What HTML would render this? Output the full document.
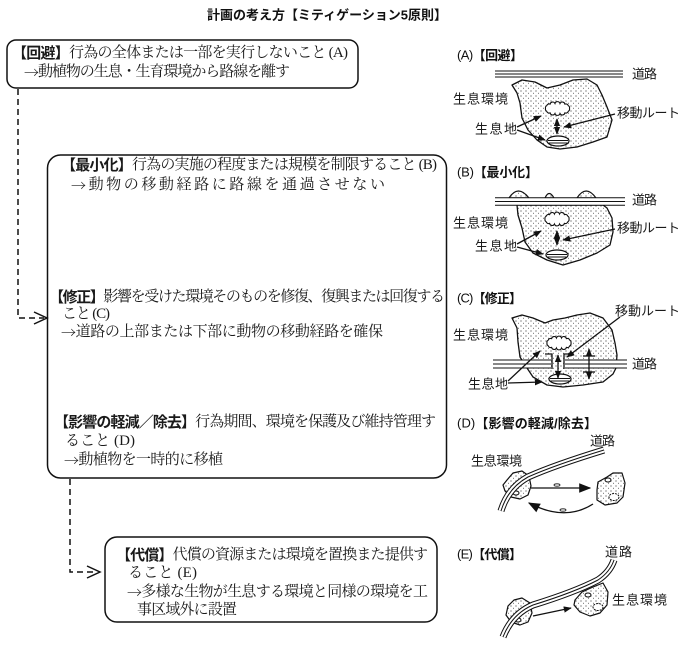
<!DOCTYPE html>
<html><head><meta charset="utf-8"><style>
html,body{margin:0;padding:0;background:#fff;}
svg{display:block;}
.b{font-family:"Liberation Serif","Noto Serif CJK JP","Noto Serif CJK SC",serif;font-size:15px;fill:#1a1a1a;}
.g{font-family:"Liberation Sans","Noto Sans CJK JP",sans-serif;font-weight:bold;}
.ar{font-family:"Noto Serif CJK JP","Noto Serif CJK SC",serif;}
.l{font-family:"Liberation Sans","Noto Sans CJK JP",sans-serif;font-size:13px;fill:#1a1a1a;}
.h{font-family:"Liberation Sans","Noto Sans CJK JP",sans-serif;font-size:13px;fill:#111;}
.t{font-family:"Liberation Sans","Noto Sans CJK JP",sans-serif;font-size:13px;font-weight:bold;fill:#111;}
</style></head><body>
<svg width="690" height="645" viewBox="0 0 690 645" xmlns="http://www.w3.org/2000/svg">
<defs>
<pattern id="dots" width="5" height="5" patternUnits="userSpaceOnUse">
<rect width="5" height="5" fill="#fff"/>
<circle cx="1" cy="1" r="0.6" fill="#444"/><circle cx="3.5" cy="3.3" r="0.5" fill="#444"/>
</pattern>
<marker id="ah" viewBox="0 0 10 10" refX="9" refY="5" markerUnits="userSpaceOnUse" markerWidth="8" markerHeight="8" orient="auto-start-reverse"><path d="M0,1 L10,5 L0,9 z" fill="#111"/></marker>
<marker id="ah2" viewBox="0 0 10 10" refX="9" refY="5" markerUnits="userSpaceOnUse" markerWidth="12" markerHeight="12" orient="auto-start-reverse"><path d="M0,1 L10,5 L0,9 z" fill="#111"/></marker>
<path id="cloud" d="M12,0 A2.6,2.6 0 0 1 10.8,2.8 A2.6,2.6 0 0 1 7.4,4.4 A2.6,2.6 0 0 1 2.5,5 A2.6,2.6 0 0 1 -2.5,5 A2.6,2.6 0 0 1 -7.4,4.4 A2.6,2.6 0 0 1 -10.8,2.8 A2.6,2.6 0 0 1 -12,0 A2.6,2.6 0 0 1 -10.8,-2.8 A2.6,2.6 0 0 1 -7.4,-4.4 A2.6,2.6 0 0 1 -2.5,-5 A2.6,2.6 0 0 1 2.5,-5 A2.6,2.6 0 0 1 7.4,-4.4 A2.6,2.6 0 0 1 10.8,-2.8 A2.6,2.6 0 0 1 12,0 Z" fill="#fff" stroke="#111" stroke-width="1.1"/>
<g id="oval">
<ellipse rx="11" ry="5" fill="#fff" stroke="#111" stroke-width="1.2"/>
<line x1="-10" y1="-0.5" x2="10" y2="-0.5" stroke="#111" stroke-width="1"/>
<line x1="-9.5" y1="2" x2="9.5" y2="2" stroke="#111" stroke-width="1"/>
</g>
</defs>

<!-- Title -->
<text class="t" x="207" y="15" dominant-baseline="central" textLength="240" lengthAdjust="spacing">計画の考え方【ミティゲーション5原則】</text>

<!-- Boxes -->
<g fill="none" stroke="#111" stroke-width="1.5">
<rect x="7" y="40" width="351" height="48" rx="9"/>
<rect x="47.5" y="155" width="399" height="323" rx="13"/>
<rect x="105" y="537" width="332" height="85" rx="12"/>
</g>

<!-- Dashed connectors -->
<g fill="none" stroke="#111" stroke-width="1.5">
<path d="M18,89 V318 H44" stroke-dasharray="6,4"/>
<polyline points="34,312 47,318 34,324"/>
<path d="M70,479 V572 H97" stroke-dasharray="6,4"/>
<polyline points="87,566 100,572 87,578"/>
</g>

<!-- Box text -->
<text class="b" x="12" y="53" dominant-baseline="central" textLength="336" lengthAdjust="spacing"><tspan class="g">【回避】</tspan>行為の全体または一部を実行しないこと (A)</text>
<text class="b" x="24" y="72" dominant-baseline="central" textLength="266" lengthAdjust="spacing"><tspan class="ar">→</tspan>動植物の生息・生育環境から路線を離す</text>

<text class="b" x="61" y="165" dominant-baseline="central" textLength="376" lengthAdjust="spacing"><tspan class="g">【最小化】</tspan>行為の実施の程度または規模を制限すること (B)</text>
<text class="b" x="71" y="185" dominant-baseline="central" textLength="314" lengthAdjust="spacing"><tspan class="ar">→</tspan>動物の移動経路に路線を通過させない</text>

<text class="b" x="49" y="297" dominant-baseline="central" textLength="396" lengthAdjust="spacing"><tspan class="g">【修正】</tspan>影響を受けた環境そのものを修復、復興または回復する</text>
<text class="b" x="62" y="314" dominant-baseline="central" textLength="48" lengthAdjust="spacing">こと (C)</text>
<text class="b" x="61" y="332" dominant-baseline="central" textLength="322" lengthAdjust="spacing"><tspan class="ar">→</tspan>道路の上部または下部に動物の移動経路を確保</text>

<text class="b" x="54" y="422" dominant-baseline="central" textLength="382" lengthAdjust="spacing"><tspan class="g">【影響の軽減／除去】</tspan>行為期間、環境を保護及び維持管理す</text>
<text class="b" x="65" y="441" dominant-baseline="central" textLength="70" lengthAdjust="spacing">ること (D)</text>
<text class="b" x="64" y="460" dominant-baseline="central" textLength="159" lengthAdjust="spacing"><tspan class="ar">→</tspan>動植物を一時的に移植</text>

<text class="b" x="116" y="555" dominant-baseline="central" textLength="312" lengthAdjust="spacing"><tspan class="g">【代償】</tspan>代償の資源または環境を置換また提供す</text>
<text class="b" x="128" y="573" dominant-baseline="central" textLength="69" lengthAdjust="spacing">ること (E)</text>
<text class="b" x="127" y="592" dominant-baseline="central" textLength="301" lengthAdjust="spacing"><tspan class="ar">→</tspan>多様な生物が生息する環境と同様の環境を工</text>
<text class="b" x="137" y="610" dominant-baseline="central" textLength="100" lengthAdjust="spacing">事区域外に設置</text>

<!-- ===== (A) ===== -->
<text class="h" x="457" y="55" dominant-baseline="central" textLength="66" lengthAdjust="spacing">(A)<tspan class="g">【回避】</tspan></text>
<g>
<line x1="495" y1="74" x2="623" y2="74" stroke="#111" stroke-width="7"/>
<line x1="495" y1="74" x2="623" y2="74" stroke="#fff" stroke-width="5"/>
<line x1="495" y1="74" x2="623" y2="74" stroke="#111" stroke-width="1"/>
</g>
<polygon points="512,85 522,80 535,82 547,88 560,85 573,80 587,79 597,85 602,95 607,107 612,120 607,137 593,142 577,147 560,149 547,147 537,140 528,130 522,118 520,103 517,93" fill="url(#dots)" stroke="#111" stroke-width="1.3" stroke-linejoin="round"/>
<use href="#cloud" x="557.5" y="108.5"/>
<use href="#oval" x="558" y="141"/>
<g stroke="#111" stroke-width="1.3" fill="none">
<line x1="557" y1="119" x2="557" y2="134" marker-start="url(#ah)" marker-end="url(#ah)"/>
<line x1="615" y1="114" x2="564" y2="127" marker-end="url(#ah)"/>
<line x1="517" y1="127" x2="541" y2="116" marker-end="url(#ah)"/>
<line x1="517" y1="130" x2="545" y2="140" marker-end="url(#ah)"/>
</g>
<text class="l" x="632" y="74" dominant-baseline="central" textLength="25" lengthAdjust="spacing">道路</text>
<text class="l" x="453" y="99" dominant-baseline="central" textLength="55" lengthAdjust="spacing">生息環境</text>
<text class="l" x="617" y="113" dominant-baseline="central" textLength="63" lengthAdjust="spacing">移動ルート</text>
<text class="l" x="475" y="129" dominant-baseline="central" textLength="42" lengthAdjust="spacing">生息地</text>

<!-- ===== (B) ===== -->
<text class="h" x="457" y="172" dominant-baseline="central" textLength="81" lengthAdjust="spacing">(B)<tspan class="g">【最小化】</tspan></text>
<g fill="url(#dots)" stroke="#111" stroke-width="1.2">
<path d="M509,198 Q518,184 529,198 Z"/>
<path d="M545,198 Q549,189 554,198 Z"/>
<path d="M577,198 Q586,184 596,198 Z"/>
</g>
<polygon points="517,205 518,215 522,228 525,242 533,253 547,260 563,265 580,260 597,253 610,245 613,232 612,218 607,208 603,205" fill="url(#dots)" stroke="#111" stroke-width="1.3" stroke-linejoin="round"/>
<g>
<line x1="495" y1="201.5" x2="625" y2="201.5" stroke="#111" stroke-width="8.5"/>
<line x1="495" y1="201.5" x2="625" y2="201.5" stroke="#fff" stroke-width="6.5"/>
<line x1="495" y1="201.5" x2="625" y2="201.5" stroke="#111" stroke-width="1"/>
</g>
<use href="#cloud" x="557" y="219"/>
<use href="#oval" x="557" y="255"/>
<g stroke="#111" stroke-width="1.3" fill="none">
<line x1="557" y1="231" x2="557" y2="245" marker-start="url(#ah)" marker-end="url(#ah)"/>
<line x1="615" y1="229" x2="563" y2="240" marker-end="url(#ah)"/>
<line x1="517" y1="244" x2="541" y2="231" marker-end="url(#ah)"/>
<line x1="517" y1="247" x2="543" y2="254" marker-end="url(#ah)"/>
</g>
<text class="l" x="632" y="200" dominant-baseline="central" textLength="25" lengthAdjust="spacing">道路</text>
<text class="l" x="453" y="223" dominant-baseline="central" textLength="55" lengthAdjust="spacing">生息環境</text>
<text class="l" x="617" y="228" dominant-baseline="central" textLength="63" lengthAdjust="spacing">移動ルート</text>
<text class="l" x="475" y="246" dominant-baseline="central" textLength="42" lengthAdjust="spacing">生息地</text>

<!-- ===== (C) ===== -->
<text class="h" x="457" y="298" dominant-baseline="central" textLength="65" lengthAdjust="spacing">(C)<tspan class="g">【修正】</tspan></text>
<polygon points="512,318 522,315 533,318 545,323 553,320 565,318 577,315 590,313 603,318 612,330 615,343 617,355 616,368 613,374 603,382 583,385 563,387 547,385 533,377 527,368 520,357 518,342 517,328" fill="url(#dots)" stroke="#111" stroke-width="1.3" stroke-linejoin="round"/>
<g>
<line x1="493" y1="364" x2="551" y2="364" stroke="#111" stroke-width="9"/>
<line x1="493" y1="364" x2="551" y2="364" stroke="#fff" stroke-width="7"/>
<line x1="493" y1="364" x2="551" y2="364" stroke="#111" stroke-width="1"/>
<line x1="565" y1="364" x2="627" y2="364" stroke="#111" stroke-width="9"/>
<line x1="565" y1="364" x2="627" y2="364" stroke="#fff" stroke-width="7"/>
<line x1="565" y1="364" x2="627" y2="364" stroke="#111" stroke-width="1"/>
</g>
<g stroke="#111" stroke-width="1.3" fill="none">
<path d="M545,354 H552 V369"/>
<path d="M571,354 H564 V369"/>
<line x1="583" y1="356" x2="595" y2="356"/>
<line x1="583" y1="372" x2="595" y2="372"/>
</g>
<use href="#cloud" x="559" y="343"/>
<use href="#oval" x="560" y="379"/>
<g stroke="#111" stroke-width="1.3" fill="none">
<line x1="558" y1="355" x2="558" y2="378" marker-start="url(#ah)" marker-end="url(#ah)"/>
<line x1="589" y1="349" x2="589" y2="379" marker-start="url(#ah)" marker-end="url(#ah)"/>
<line x1="620" y1="317" x2="567" y2="357" marker-end="url(#ah)"/>
<line x1="508" y1="381" x2="540" y2="351" marker-end="url(#ah)"/>
<line x1="508" y1="383" x2="542" y2="382" marker-end="url(#ah)"/>
</g>
<text class="l" x="615" y="311" dominant-baseline="central" textLength="65" lengthAdjust="spacing">移動ルート</text>
<text class="l" x="453" y="335" dominant-baseline="central" textLength="55" lengthAdjust="spacing">生息環境</text>
<text class="l" x="632" y="364" dominant-baseline="central" textLength="25" lengthAdjust="spacing">道路</text>
<text class="l" x="468" y="384" dominant-baseline="central" textLength="40" lengthAdjust="spacing">生息地</text>

<!-- ===== (D) ===== -->
<text class="h" x="457" y="423" dominant-baseline="central" textLength="140" lengthAdjust="spacing">(D)<tspan class="g">【影響の軽減/除去】</tspan></text>
<text class="l" x="590" y="441" dominant-baseline="central" textLength="25" lengthAdjust="spacing">道路</text>
<text class="l" x="471" y="461" dominant-baseline="central" textLength="51" lengthAdjust="spacing">生息環境</text>
<polygon points="507,480 513,473 522,471 529,476 531,486 528,495 520,499 511,497 505,491 503,485" fill="url(#dots)" stroke="#111" stroke-width="1.2" stroke-linejoin="round"/>
<polygon points="597,490 598,482 607,477 613,473 622,473 625,483 623,497 617,503 605,505 597,500" fill="url(#dots)" stroke="#111" stroke-width="1.2" stroke-linejoin="round"/>
<ellipse cx="608" cy="480" rx="3" ry="2" fill="#fff" stroke="#111" stroke-width="1"/>
<ellipse cx="614" cy="497" rx="5" ry="3.5" fill="#fff" stroke="#111" stroke-width="1" stroke-dasharray="2,1"/>
<ellipse cx="516" cy="493" rx="3" ry="2" fill="#fff" stroke="#111" stroke-width="1"/>
<g fill="none">
<path d="M501,511 Q508,488 528,477 Q555,465 604,450" stroke="#111" stroke-width="7"/>
<path d="M501,511 Q508,488 528,477 Q555,465 604,450" stroke="#fff" stroke-width="5"/>
<path d="M501,511 Q508,488 528,477 Q555,465 604,450" stroke="#111" stroke-width="1"/>
</g>
<g stroke="#111" stroke-width="1.3" fill="none">
<line x1="531" y1="488" x2="590" y2="488" marker-end="url(#ah2)"/>
<path d="M593,504 Q565,522 529,503" marker-end="url(#ah2)"/>
<ellipse cx="557" cy="485" rx="3" ry="1.2" stroke-width="0.8"/>
<ellipse cx="563" cy="510" rx="3" ry="1.2" stroke-width="0.8"/>
</g>

<!-- ===== (E) ===== -->
<text class="h" x="457" y="554" dominant-baseline="central" textLength="65" lengthAdjust="spacing">(E)<tspan class="g">【代償】</tspan></text>
<text class="l" x="605" y="552" dominant-baseline="central" textLength="27" lengthAdjust="spacing">道路</text>
<text class="l" x="612" y="600" dominant-baseline="central" textLength="55" lengthAdjust="spacing">生息環境</text>
<polygon points="508,606 514,600 522,598 530,603 532,613 528,622 520,625 511,622 506,615" fill="url(#dots)" stroke="#111" stroke-width="1.2" stroke-linejoin="round"/>
<polygon points="575,600 582,592 593,587 603,583 608,592 607,605 600,613 590,616 580,612 574,605" fill="url(#dots)" stroke="#111" stroke-width="1.2" stroke-linejoin="round"/>
<ellipse cx="588" cy="595" rx="3" ry="2" fill="#fff" stroke="#111" stroke-width="1"/>
<ellipse cx="598" cy="607" rx="5" ry="3.5" fill="#fff" stroke="#111" stroke-width="1" stroke-dasharray="2,1"/>
<ellipse cx="518" cy="620" rx="3" ry="2" fill="#fff" stroke="#111" stroke-width="1"/>
<g fill="none">
<path d="M503,637 Q512,614 533,605 Q575,592 598,580 Q610,572 614,560" stroke="#111" stroke-width="7"/>
<path d="M503,637 Q512,614 533,605 Q575,592 598,580 Q610,572 614,560" stroke="#fff" stroke-width="5"/>
<path d="M503,637 Q512,614 533,605 Q575,592 598,580 Q610,572 614,560" stroke="#111" stroke-width="1"/>
</g>
<line x1="533" y1="616" x2="571" y2="608" stroke="#111" stroke-width="1.2" marker-end="url(#ah)"/>
</svg>
</body></html>
